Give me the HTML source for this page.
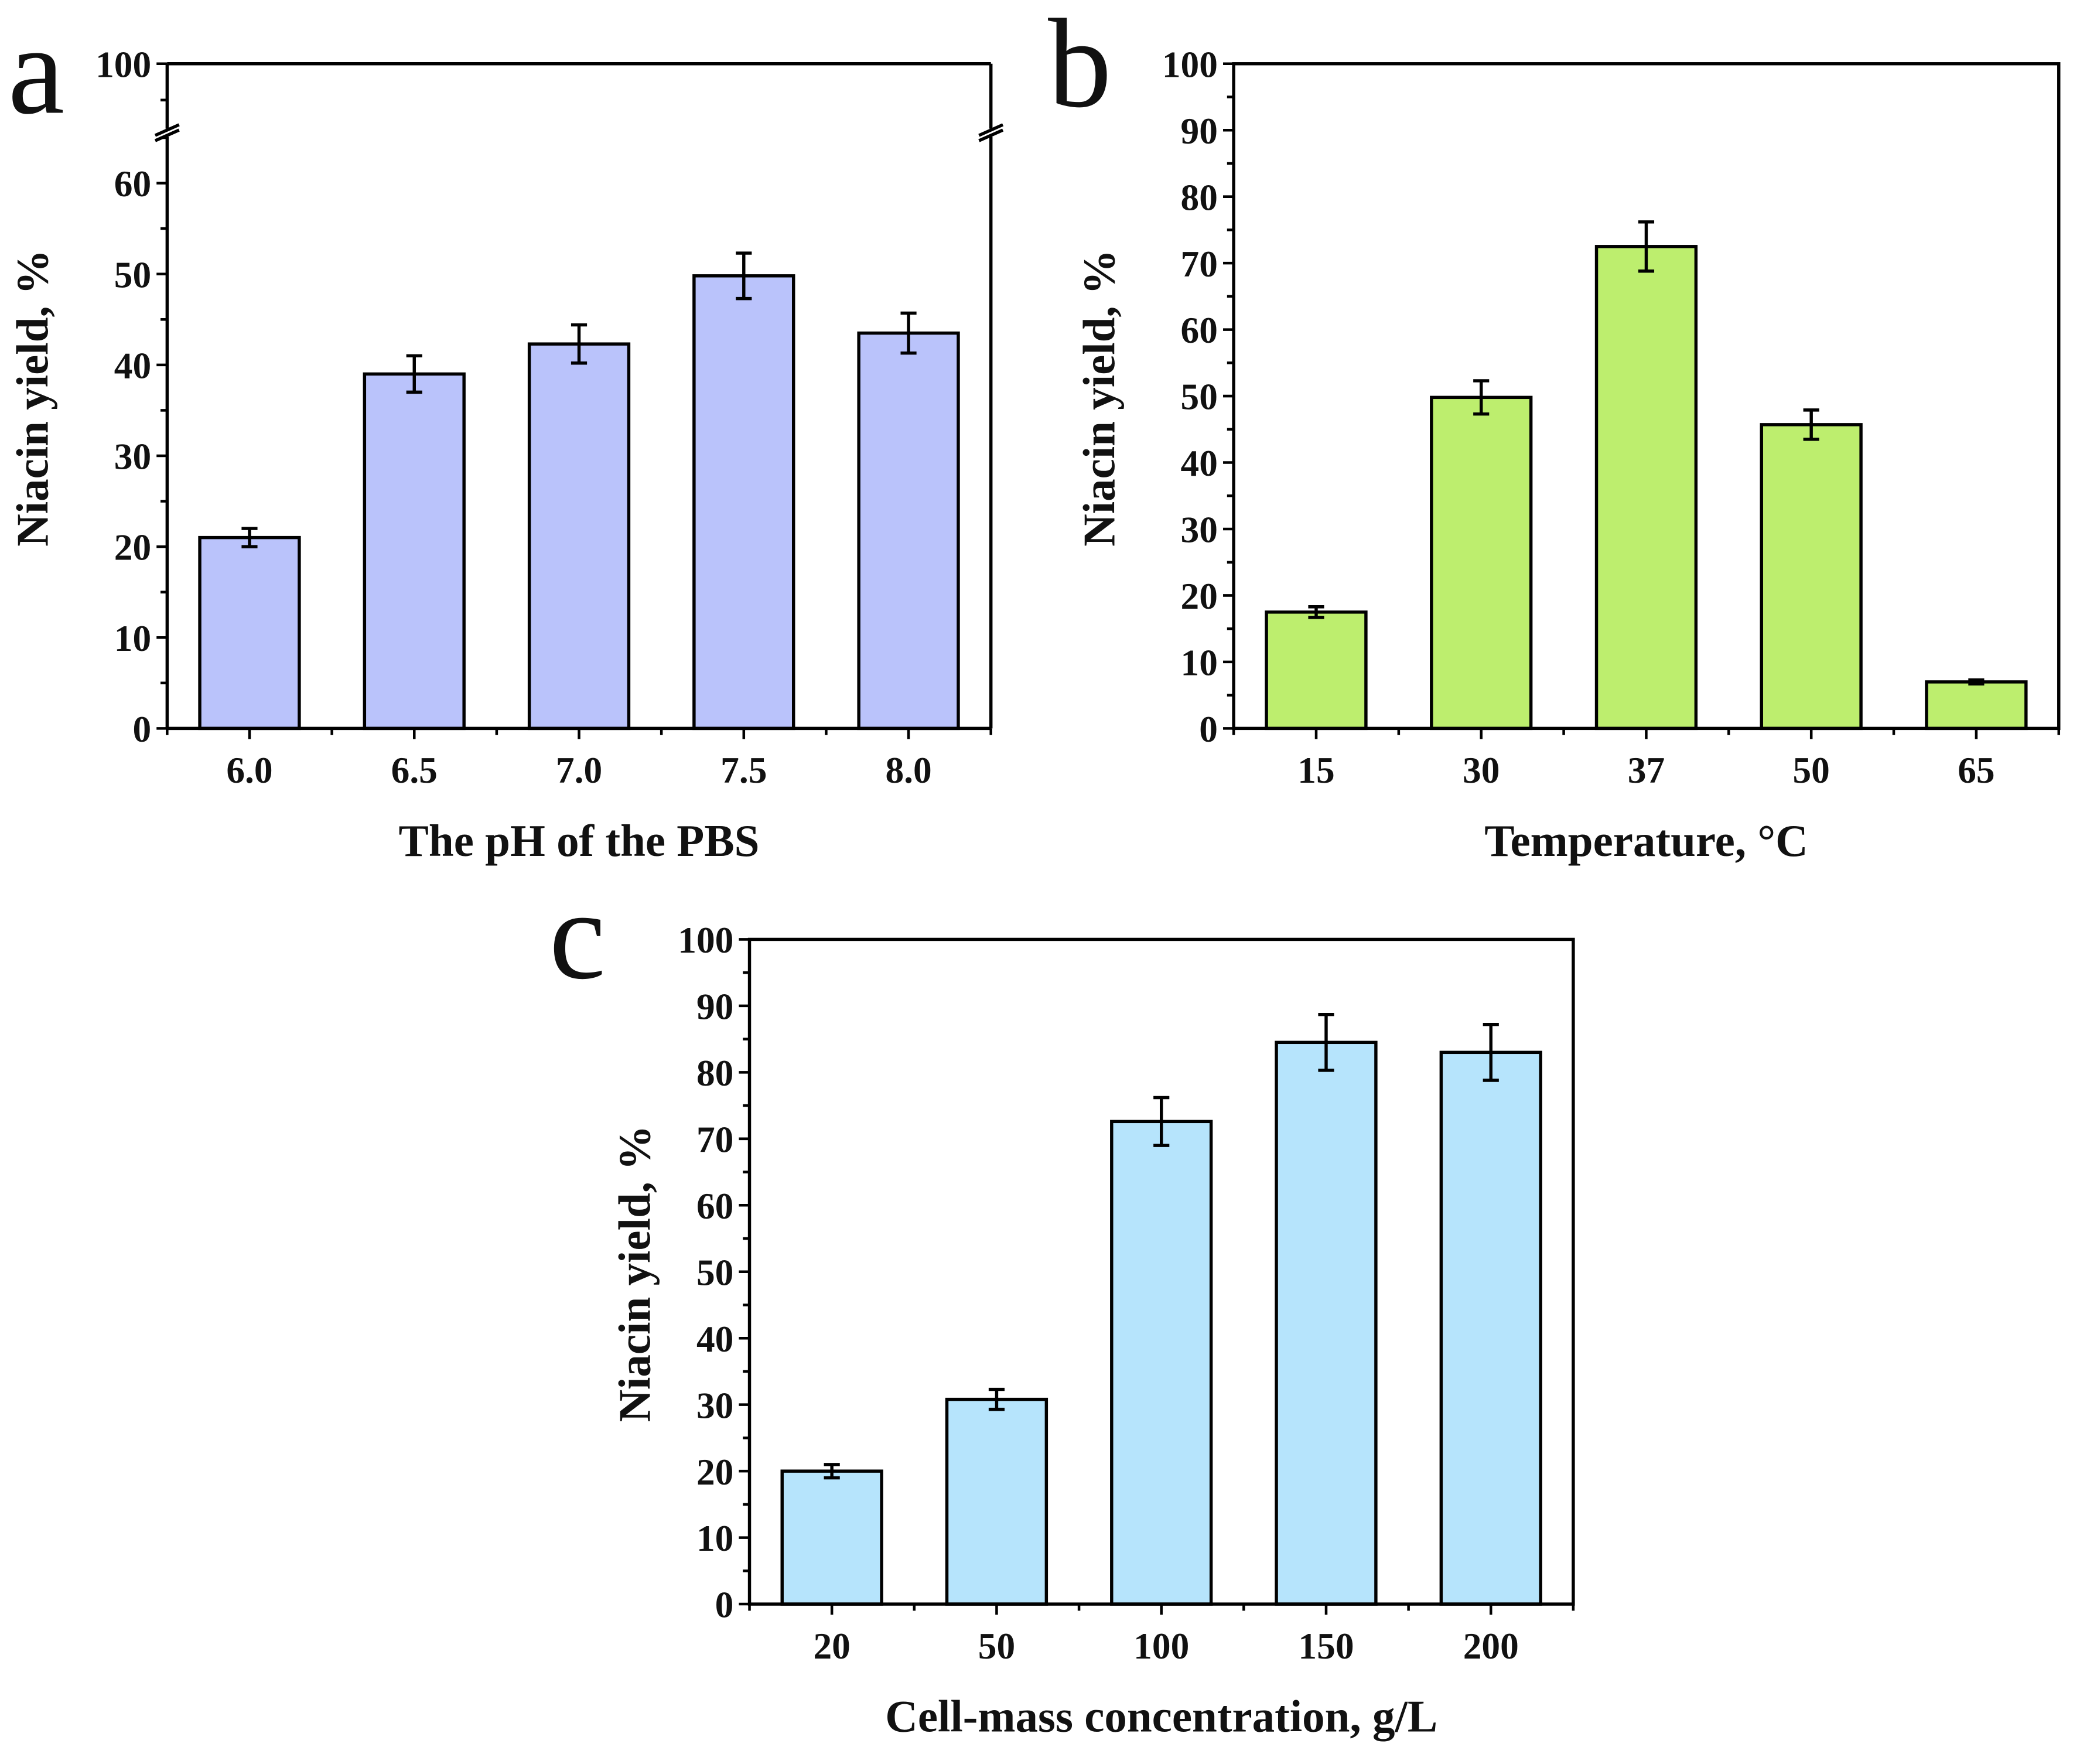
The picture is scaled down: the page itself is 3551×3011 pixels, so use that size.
<!DOCTYPE html>
<html><head><meta charset="utf-8">
<style>
html,body{margin:0;padding:0;background:#fff;}
svg{display:block;}
text{font-family:"Liberation Serif","DejaVu Serif",serif;font-weight:bold;fill:#111;}
</style></head>
<body>
<svg id="fig" width="3551" height="3011" viewBox="0 0 1568 1329.5" xmlns="http://www.w3.org/2000/svg">
<rect width="1568" height="1329.5" fill="#fff"/>
</svg>
<script>
// Panel a data
const aCats = ["6.0","6.5","7.0","7.5","8.0"];
const aVals = [21, 39, 42.3, 49.8, 43.5];
const aErrs = [1, 2, 2.1, 2.5, 2.2];
const aTicks = [0,10,20,30,40,50,60];
// Panel b data
const bCats = ["15","30","37","50","65"];
const bVals = [17.5, 49.8, 72.5, 45.7, 7];
const bErrs = [0.8, 2.5, 3.7, 2.2, 0.3];
const bTicks = [0,10,20,30,40,50,60,70,80,90,100];
// Panel c data
const cCats = ["20","50","100","150","200"];
const cVals = [20, 30.8, 72.6, 84.5, 83];
const cErrs = [1, 1.5, 3.6, 4.2, 4.2];
const cTicks = [0,10,20,30,40,50,60,70,80,90,100];

const NS = "http://www.w3.org/2000/svg";
const svg = document.getElementById("fig");
function mk(tag, attrs, parent){
  const e = document.createElementNS(NS, tag);
  for (const k in attrs) e.setAttribute(k, attrs[k]);
  (parent||svg).appendChild(e);
  return e;
}
const TF = 28, AF = 34;

function panel(o){
  const g = mk("g", {});
  
  
  const x0=o.x0, x1=o.x1, yb=o.yb, ppu=o.ppu;
  const n=o.cats.length, step=(x1-x0)/n;
  const xc = i => x0 + step*(i+0.5);
  const yv = v => yb - v*ppu;
  o.vals.forEach((v,i)=>{
    const r = mk("rect",{x:xc(i)-37.5,y:yv(v),width:75,height:v*ppu,fill:o.color,stroke:"#000","stroke-width":2.4},g);
    
    
    const e=o.errs[i], cx=xc(i);
    const eb = mk("path",{d:`M${cx},${yv(v+e)}V${yv(v-e)}M${cx-6},${yv(v+e)}H${cx+6}M${cx-6},${yv(v-e)}H${cx+6}`,stroke:"#000","stroke-width":2.4,fill:"none"},g);
    
    
  });
  const yt = o.ytop;
  if (o.brk){
    const yBrkLow = o.brkLow, yBrkHigh = o.brkHigh;
    mk("path",{d:`M${x0},${yb}H${x1}M${x0},${yt}H${x1}M${x0},${yb}V${yBrkLow}M${x0},${yBrkHigh}V${yt}M${x1},${yb}V${yBrkLow}M${x1},${yBrkHigh}V${yt}`,stroke:"#000","stroke-width":2.4,fill:"none"},g);
    [x0,x1].forEach(xx=>{
      mk("path",{d:`M${xx-9},${yBrkLow+3}L${xx+9},${yBrkLow-5}M${xx-9},${yBrkHigh+5}L${xx+9},${yBrkHigh-3}`,stroke:"#000","stroke-width":2.4},g);
    });
    const yU = v => yt + (100-v)*ppu;
    mk("path",{d:`M${x0},${yt}H${x0-8}M${x0},${yU(96)}H${x0-5}`,stroke:"#000","stroke-width":2},g);
    const tl=mk("text",{x:x0-12,y:yt+10,"font-size":TF,"text-anchor":"end"},g); tl.textContent="100";
    
    
  } else {
    mk("rect",{x:x0,y:yt,width:x1-x0,height:yb-yt,fill:"none",stroke:"#000","stroke-width":2.4},g);
  }
  const maxT = o.ticks[o.ticks.length-1];
  o.ticks.forEach(t=>{
    mk("path",{d:`M${x0},${yv(t)}H${x0-8}`,stroke:"#000","stroke-width":2},g);
    if (t<maxT) mk("path",{d:`M${x0},${yv(t+5)}H${x0-5}`,stroke:"#000","stroke-width":2},g);
    const tx = mk("text",{x:x0-12,y:yv(t)+10,"font-size":TF,"text-anchor":"end"},g);
    tx.textContent = t;
    
    
  });
  if (o.brk) mk("path",{d:`M${x0},${yv(65)}H${x0-5}`,stroke:"#000","stroke-width":2},g);
  for (let i=0;i<=n;i++){
    const xm = x0+step*i;
    mk("path",{d:`M${xm},${yb}V${yb+5}`,stroke:"#000","stroke-width":2},g);
  }
  o.cats.forEach((c,i)=>{
    mk("path",{d:`M${xc(i)},${yb}V${yb+8}`,stroke:"#000","stroke-width":2},g);
    const tx = mk("text",{x:xc(i),y:yb+41,"font-size":TF,"text-anchor":"middle"},g);
    tx.textContent = c;
    
    
  });
  const xt = mk("text",{x:(x0+x1)/2,y:yb+96,"font-size":AF,"text-anchor":"middle"},g);
  xt.textContent = o.xtitle;
  
  
  const ytx = mk("text",{x:0,y:0,"font-size":AF,"text-anchor":"middle",transform:`translate(${o.ytx},${o.yty}) rotate(-90)`},g);
  ytx.textContent = "Niacin yield, %";
  
  
  const pl = mk("text",{x:o.lx,y:o.ly,"font-size":96},g);
  pl.style.fontWeight="normal";
  pl.textContent = o.letter;
  
  
}

panel({name:"panel-a",x0:126,x1:747,yb:549,ppu:6.85,ytop:48,brk:true,brkLow:103,brkHigh:97,
  cats:aCats,vals:aVals,errs:aErrs,ticks:aTicks,color:"#bac3fb",xtitle:"The pH of the PBS",ytx:36,yty:300,lx:6,ly:85,letter:"a"});
panel({name:"panel-b",x0:930,x1:1552,yb:549,ppu:5.01,ytop:48,brk:false,
  cats:bCats,vals:bVals,errs:bErrs,ticks:bTicks,color:"#bdee6e",xtitle:"Temperature, \u00B0C",ytx:840,yty:300,lx:790,ly:80,letter:"b"});
panel({name:"panel-c",x0:565,x1:1186,yb:1209,ppu:5.01,ytop:708,brk:false,
  cats:cCats,vals:cVals,errs:cErrs,ticks:cTicks,color:"#b6e4fc",xtitle:"Cell-mass concentration, g/L",ytx:490,yty:960,lx:414,ly:737,letter:"c"});
</script>
</body></html>
